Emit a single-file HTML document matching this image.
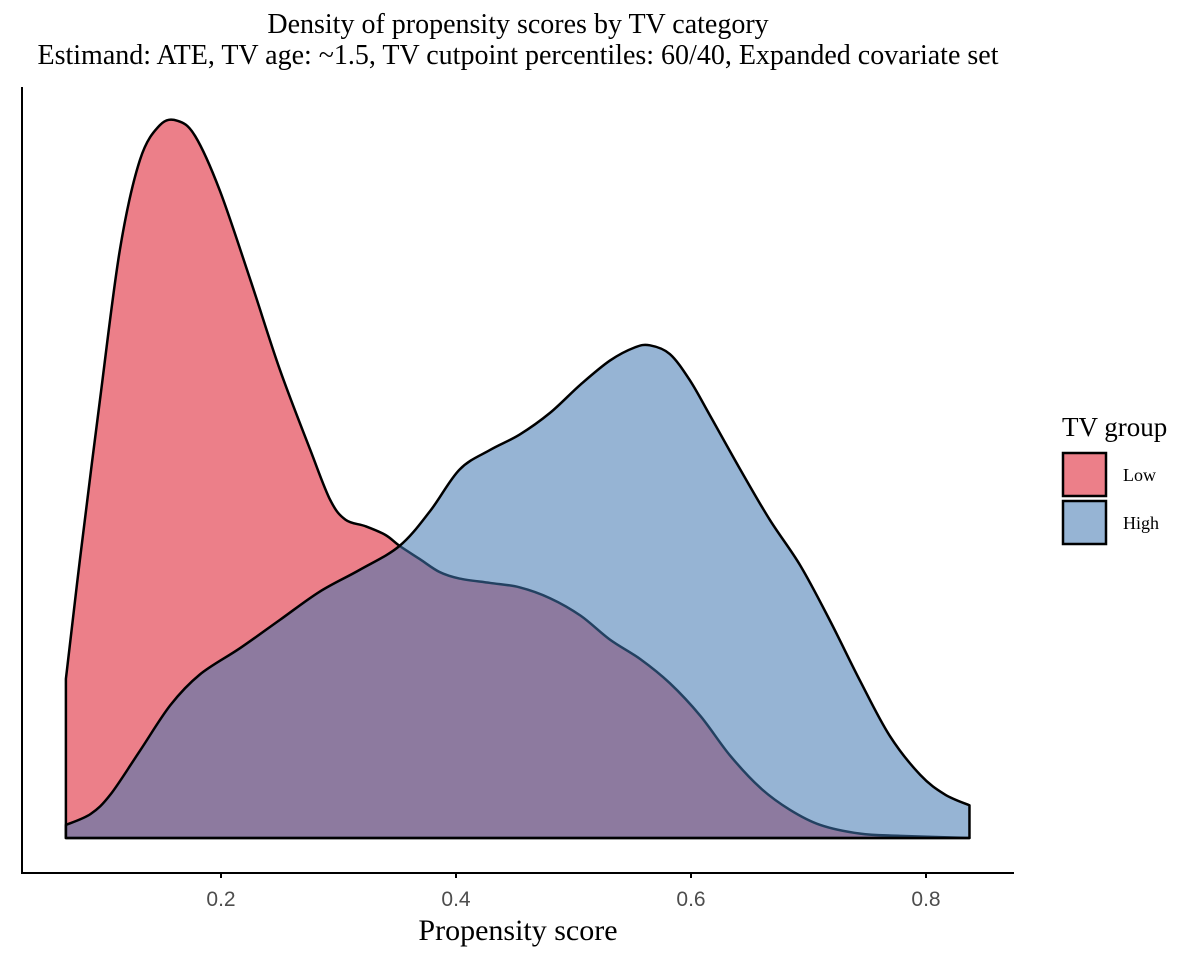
<!DOCTYPE html>
<html><head><meta charset="utf-8"><style>
body{margin:0;background:#fff;}
svg text{font-family:"Liberation Serif",serif;}
</style></head><body>
<svg id="chart" width="1200" height="960" xmlns="http://www.w3.org/2000/svg">
<text x="518" y="33" text-anchor="middle" font-size="28">Density of propensity scores by TV category</text>
<text x="518" y="64" text-anchor="middle" font-size="28">Estimand: ATE, TV age: ~1.5, TV cutpoint percentiles: 60/40, Expanded covariate set</text>
<g id="plot"></g>
<line x1="22" y1="87" x2="22" y2="874" stroke="#000" stroke-width="2"/>
<line x1="21" y1="873" x2="1014" y2="873" stroke="#000" stroke-width="2"/>
<g id="xticks"></g>
<text x="518" y="940" text-anchor="middle" font-size="30">Propensity score</text>
<g>
<text x="1062" y="436" font-size="27">TV group</text>
<rect x="1063" y="453" width="43" height="43" fill="#ec7f89" stroke="#000" stroke-width="2.5"/>
<text x="1123" y="481" font-size="18">Low</text>
<rect x="1063" y="501" width="43" height="43" fill="#96b4d4" stroke="#000" stroke-width="2.5"/>
<text x="1123" y="529" font-size="18">High</text>
</g>
</svg>
<script>
const lowX=[0.068,0.080,0.097,0.114,0.131,0.148,0.163,0.178,0.199,0.225,0.250,0.276,0.293,0.306,0.323,0.340,0.352,0.369,0.386,0.403,0.429,0.454,0.480,0.506,0.531,0.557,0.582,0.608,0.633,0.659,0.684,0.710,0.744,0.778,0.837];
const lowD=[0.73,1.28,2.01,2.70,3.11,3.27,3.29,3.22,2.97,2.56,2.15,1.78,1.55,1.46,1.43,1.39,1.34,1.28,1.22,1.19,1.17,1.15,1.10,1.02,0.91,0.82,0.71,0.56,0.38,0.23,0.13,0.06,0.02,0.01,0.0];
const highX=[0.068,0.089,0.106,0.131,0.157,0.182,0.216,0.250,0.284,0.318,0.352,0.378,0.403,0.429,0.454,0.480,0.506,0.531,0.552,0.565,0.582,0.599,0.616,0.642,0.667,0.693,0.718,0.744,0.769,0.795,0.816,0.837];
const highD=[0.06,0.11,0.20,0.40,0.61,0.75,0.87,1.00,1.13,1.23,1.34,1.50,1.69,1.78,1.85,1.95,2.08,2.19,2.25,2.26,2.22,2.10,1.94,1.69,1.46,1.25,1.00,0.72,0.47,0.29,0.20,0.15];
const xTicks=[0.2,0.4,0.6,0.8];
const xTickLabels=["0.2","0.4","0.6","0.8"];
const NS="http://www.w3.org/2000/svg";
function sx(v){return -14+1175*v;}
function sy(d){return 838-218*d;}
function smoothPath(xs,ds){
  const p=xs.map((x,i)=>[sx(x),sy(ds[i])]);
  let s="M"+p[0][0]+","+sy(0)+" L"+p[0][0]+","+p[0][1];
  for(let i=0;i<p.length-1;i++){
    const p0=p[Math.max(0,i-1)],p1=p[i],p2=p[i+1],p3=p[Math.min(p.length-1,i+2)];
    const c1=[p1[0]+(p2[0]-p0[0])/6,p1[1]+(p2[1]-p0[1])/6];
    const c2=[p2[0]-(p3[0]-p1[0])/6,p2[1]-(p3[1]-p1[1])/6];
    s+=" C"+c1[0]+","+c1[1]+" "+c2[0]+","+c2[1]+" "+p2[0]+","+p2[1];
  }
  s+=" L"+p[p.length-1][0]+","+sy(0)+" Z";
  return s;
}
const plot=document.getElementById("plot");
const low=document.createElementNS(NS,"path");
low.setAttribute("d",smoothPath(lowX,lowD));
low.setAttribute("fill","#ec7f89");low.setAttribute("stroke","#000");low.setAttribute("stroke-width","2.5");low.setAttribute("stroke-linejoin","round");


plot.appendChild(low);
const high=document.createElementNS(NS,"path");
high.setAttribute("d",smoothPath(highX,highD));
high.setAttribute("fill","rgba(64,119,177,0.55)");high.setAttribute("stroke","#000");high.setAttribute("stroke-width","2.5");high.setAttribute("stroke-linejoin","round");


plot.appendChild(high);
const xt=document.getElementById("xticks");
xTicks.forEach((v,i)=>{
  const l=document.createElementNS(NS,"line");
  l.setAttribute("x1",sx(v));l.setAttribute("x2",sx(v));l.setAttribute("y1",873);l.setAttribute("y2",878);
  l.setAttribute("stroke","#000");l.setAttribute("stroke-width","2");
  
  
  xt.appendChild(l);
  const t=document.createElementNS(NS,"text");
  t.setAttribute("x",sx(v));t.setAttribute("y",906);t.setAttribute("text-anchor","middle");
  t.setAttribute("font-size","21");t.setAttribute("fill","#4d4d4d");
  t.setAttribute("style","font-family:'Liberation Sans',sans-serif");
  t.textContent=xTickLabels[i];
  
  
  xt.appendChild(t);
});
</script>
</body></html>
